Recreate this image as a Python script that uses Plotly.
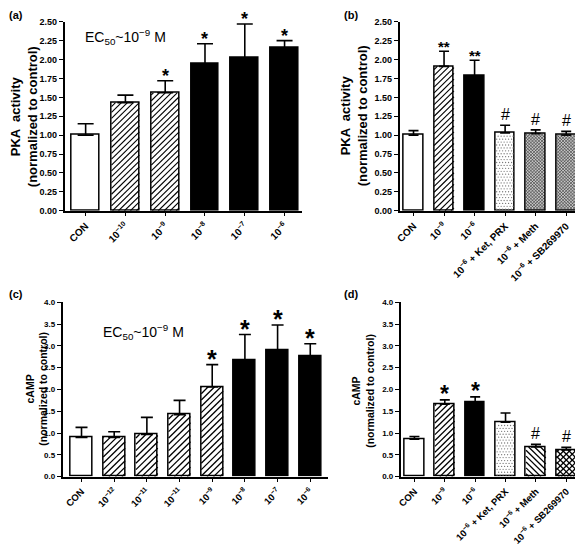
import numpy as np
import plotly.graph_objects as go

# ---------------- data ----------------
a_labels = ["CON", "10<sup>−10</sup>", "10<sup>−9</sup>", "10<sup>−8</sup>", "10<sup>−7</sup>", "10<sup>−6</sup>"]
a_values = [1.00, 1.43, 1.56, 1.94, 2.02, 2.15]
a_err = [0.15, 0.10, 0.16, 0.27, 0.45, 0.10]
a_marks = ["", "", "*", "*", "*", "*"]

b_labels = ["CON", "10<sup>−9</sup>", "10<sup>−6</sup>", "10<sup>−6</sup> + Ket, PRX",
            "10<sup>−6</sup> + Meth", "10<sup>−6</sup> + SB269970"]
b_values = [1.00, 1.91, 1.78, 1.03, 1.02, 1.00]
b_err = [0.06, 0.20, 0.21, 0.10, 0.05, 0.05]
b_marks = ["", "**", "**", "#", "#", "#"]

c_labels = ["CON", "10<sup>−12</sup>", "10<sup>−11</sup>", "10<sup>−11</sup>", "10<sup>−9</sup>",
            "10<sup>−8</sup>", "10<sup>−7</sup>", "10<sup>−6</sup>"]
c_values = [0.90, 0.90, 0.97, 1.42, 2.06, 2.66, 2.89, 2.77]
c_err = [0.23, 0.13, 0.39, 0.33, 0.51, 0.60, 0.59, 0.28]
c_marks = ["", "", "", "", "*", "*", "*", "*"]

d_labels = b_labels
d_values = [0.86, 1.66, 1.71, 1.25, 0.68, 0.61]
d_err = [0.06, 0.10, 0.12, 0.21, 0.06, 0.06]
d_marks = ["", "*", "*", "", "#", "#"]

# ---------------- styles ----------------
OFF = 8                      # browser body margin
W0, H0 = 583 - OFF, 546 - OFF
FONT = "Liberation Sans, Arial, sans-serif"

a_fill = ["white", "white", "white", "black", "black", "black"]
a_hatch = ["", "/", "/", "", "", ""]
b_fill = ["white", "white", "black", "white", "#c4c4c4", "#c4c4c4"]
b_hatch = ["", "/", "", ".", "xx", "xx"]
c_fill = ["white"] * 5 + ["black"] * 3
c_hatch = ["", "/", "/", "/", "/", "", "", ""]
d_fill = ["white", "white", "black", "white", "white", "white"]
d_hatch = ["", "/", "", ".", "\\", "x"]


def px_x(p):
    return (p - OFF) / W0


def px_y(p):
    return 1 - (p - OFF) / H0


# axis geometry in reference pixels
GEO = {
    "a": dict(xpx=(60, 300), xr=(-0.53, 5.45), ypx=(211, 17), yr=(0, 2.5)),
    "b": dict(xpx=(398, 583), xr=(-0.455, 5.55), ypx=(211, 17), yr=(0, 2.5)),
    "c": dict(xpx=(58, 326), xr=(-0.58, 7.55), ypx=(484, 305), yr=(0, 4.0)),
    "d": dict(xpx=(399, 583), xr=(-0.455, 5.55), ypx=(484, 305), yr=(0, 4.0)),
}

fig = go.Figure()


def add_bars(xa, ya, labels, values, err, colors, width, capw):
    fig.add_trace(go.Bar(
        x=list(range(len(labels))), y=values, xaxis=xa, yaxis=ya, width=width,
        marker=dict(color=colors, line=dict(color="black", width=1.5)),
        error_y=dict(type="data", symmetric=False, array=err, arrayminus=[0] * len(err),
                     color="black", thickness=1.6, width=capw),
        showlegend=False, hoverinfo="skip",
    ))


def add_hatch(key, xa, ya, values, width, hatch, spacing, lw, dot_sp):
    g = GEO[key]
    pxx = (g["xpx"][1] - g["xpx"][0]) / (g["xr"][1] - g["xr"][0])
    pxy = (g["ypx"][0] - g["ypx"][1]) / (g["yr"][1] - g["yr"][0])
    segs = {"line": ([], []), "fine": ([], []), "dot": ([], [])}
    for i, h in enumerate(hatch):
        if not h:
            continue
        bw = width * pxx
        bh = values[i] * pxy
        x0 = i - width / 2
        if h == ".":
            xs, ys = segs["dot"]
            row = 0
            for w in np.arange(1.5, bh - 1, dot_sp):
                off = (dot_sp / 2) if row % 2 else 0
                for u in np.arange(1.5 + off, bw - 1, dot_sp):
                    xs.append(x0 + u / pxx)
                    ys.append(w / pxy)
                row += 1
            continue
        kinds = []
        if h in ("/", "x", "xx"):
            kinds.append("/")
        if h in ("\\", "x", "xx"):
            kinds.append("\\")
        sp = spacing if h != "xx" else 3.2
        tgt = segs["fine"] if h == "xx" else segs["line"]
        xs, ys = tgt
        for k in kinds:
            if k == "/":
                for c in np.arange(-bw + sp / 2, bh, sp):
                    us, ue = max(0.0, -c), min(bw, bh - c)
                    if us < ue:
                        xs += [x0 + us / pxx, x0 + ue / pxx, None]
                        ys += [(us + c) / pxy, (ue + c) / pxy, None]
            else:
                for c in np.arange(sp / 2, bw + bh, sp):
                    us, ue = max(0.0, c - bh), min(bw, c)
                    if us < ue:
                        xs += [x0 + us / pxx, x0 + ue / pxx, None]
                        ys += [(c - us) / pxy, (c - ue) / pxy, None]
    if segs["line"][0]:
        fig.add_trace(go.Scatter(x=segs["line"][0], y=segs["line"][1], xaxis=xa, yaxis=ya,
                                 mode="lines", line=dict(color="black", width=lw),
                                 showlegend=False, hoverinfo="skip"))
    if segs["fine"][0]:
        fig.add_trace(go.Scatter(x=segs["fine"][0], y=segs["fine"][1], xaxis=xa, yaxis=ya,
                                 mode="lines", line=dict(color="#333333", width=0.6),
                                 showlegend=False, hoverinfo="skip"))
    if segs["dot"][0]:
        fig.add_trace(go.Scatter(x=segs["dot"][0], y=segs["dot"][1], xaxis=xa, yaxis=ya,
                                 mode="markers", marker=dict(color="#777777", size=1.3),
                                 showlegend=False, hoverinfo="skip"))


add_bars("x", "y", a_labels, a_values, a_err, a_fill, 0.7, 8)
add_bars("x2", "y2", b_labels, b_values, b_err, b_fill, 0.65, 5)
add_bars("x3", "y3", c_labels, c_values, c_err, c_fill, 0.67, 6)
add_bars("x4", "y4", d_labels, d_values, d_err, d_fill, 0.65, 5)

add_hatch("a", "x", "y", a_values, 0.7, a_hatch, 6.0, 1.1, 3)
add_hatch("b", "x2", "y2", b_values, 0.65, b_hatch, 6.0, 1.1, 3)
add_hatch("c", "x3", "y3", c_values, 0.67, c_hatch, 6.5, 1.3, 3)
add_hatch("d", "x4", "y4", d_values, 0.65, d_hatch, 6.0, 1.3, 3)

tickfont_top = dict(family=FONT, size=9, color="black", weight="bold")
xtickfont_top = dict(family=FONT, size=10, color="black", weight="bold")
tickfont_bot = dict(family=FONT, size=8, color="black", weight="bold")
xtickfont_bot = dict(family=FONT, size=9.5, color="black", weight="bold")


def xaxis(key, labels, anchor, tf):
    g = GEO[key]
    return dict(domain=[px_x(g["xpx"][0]), min(1.0, px_x(g["xpx"][1]))], range=list(g["xr"]),
                anchor=anchor, tickmode="array",
                tickvals=list(range(len(labels))), ticktext=labels, tickangle=-45,
                ticks="outside", ticklen=4, tickwidth=1.2, tickcolor="black",
                showline=True, linecolor="black", linewidth=1.5, showgrid=False,
                zeroline=False, tickfont=tf, fixedrange=True)


def yaxis(key, dtick, fmt, anchor, tf):
    g = GEO[key]
    return dict(domain=[px_y(g["ypx"][0]), px_y(g["ypx"][1])], range=list(g["yr"]),
                anchor=anchor, dtick=dtick, tickformat=fmt,
                ticks="outside", ticklen=4, tickwidth=1.2, tickcolor="black",
                showline=True, linecolor="black", linewidth=1.5, showgrid=False,
                zeroline=False, tickfont=tf, fixedrange=True)


fig.update_layout(
    width=W0, height=H0, margin=dict(l=0, r=0, t=0, b=0),
    plot_bgcolor="white", paper_bgcolor="white", bargap=0,
    xaxis=xaxis("a", a_labels, "y", xtickfont_top),
    yaxis=yaxis("a", 0.25, ".2f", "x", tickfont_top),
    xaxis2=xaxis("b", b_labels, "y2", xtickfont_top),
    yaxis2=yaxis("b", 0.25, ".2f", "x2", tickfont_top),
    xaxis3=xaxis("c", c_labels, "y3", xtickfont_bot),
    yaxis3=yaxis("c", 0.5, ".1f", "x3", tickfont_bot),
    xaxis4=xaxis("d", d_labels, "y4", xtickfont_bot),
    yaxis4=yaxis("d", 0.5, ".1f", "x4", tickfont_bot),
)

ann = []


def marks(xr, yr, values, err, mk, size, shift_star, hash_size):
    for i, m in enumerate(mk):
        if not m:
            continue
        is_hash = m == "#"
        ann.append(dict(x=i, y=values[i] + err[i], xref=xr, yref=yr, text=m,
                        showarrow=False, yanchor="bottom", yshift=0 if is_hash else shift_star,
                        font=dict(family=FONT, size=hash_size if is_hash else size, color="black",
                                  weight="normal" if is_hash else "bold")))


marks("x", "y", a_values, a_err, a_marks, 18, -7, 15)
marks("x2", "y2", b_values, b_err, b_marks, 15, -6, 16)
marks("x3", "y3", c_values, c_err, c_marks, 25, -10, 16)
marks("x4", "y4", d_values, d_err, d_marks, 23, -9, 16)

# panel letters
for t, x, y in [("(a)", 2, 10), ("(b)", 340, 10), ("(c)", 2, 297), ("(d)", 340, 297)]:
    ann.append(dict(x=px_x(x), y=px_y(y), xref="paper", yref="paper", text=t, showarrow=False,
                    xanchor="left", yanchor="middle",
                    font=dict(family=FONT, size=11, color="black", weight="bold")))

# EC50 labels
ec = "EC<sub>50</sub>~10<sup>−9</sup> M"
ann.append(dict(x=px_x(79), y=px_y(33), xref="paper", yref="paper", text=ec, showarrow=False,
                xanchor="left", yanchor="middle", font=dict(family=FONT, size=14, color="black")))
ann.append(dict(x=px_x(97), y=px_y(336), xref="paper", yref="paper", text=ec, showarrow=False,
                xanchor="left", yanchor="middle", font=dict(family=FONT, size=14, color="black")))

# y axis titles
for x, y, txt, sz in [(19, 114, "PKA  activity<br>(normalized to control)", 13),
                      (352, 114, "PKA  activity<br>(normalized to control)", 13),
                      (32, 394, "cAMP<br>(normalized to control)", 10.5),
                      (361, 396, "cAMP<br>(normalized to control)", 10.5)]:
    ann.append(dict(x=px_x(x), y=px_y(y), xref="paper", yref="paper", text=txt,
                    showarrow=False, textangle=-90, xanchor="center", yanchor="middle",
                    font=dict(family=FONT, size=sz, color="black", weight="bold")))

fig.update_layout(annotations=ann)
fig.write_html("out.html")
